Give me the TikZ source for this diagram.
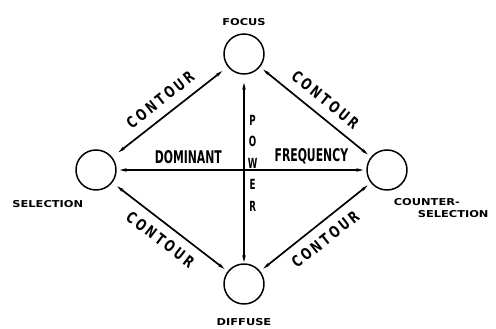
\documentclass[tikz,border=0pt]{standalone}
\usepackage{fontspec}
\setmainfont{DejaVu Sans}
\newfontfamily\tagfont[FakeStretch=1.2]{DejaVu Sans}
\newfontfamily\condfont[FakeStretch=0.62]{DejaVu Sans}
\newfontfamily\contfont[FakeStretch=0.75,LetterSpace=18]{DejaVu Sans}
\usetikzlibrary{arrows.meta,positioning}

\begin{document}
\begin{tikzpicture}[x=1pt,y=1pt,line join=round,>={Stealth[length=7pt,width=3.5pt]}]
	\tikzset{pole/.style={circle,draw,line width=1.5pt,minimum size=40pt,inner sep=0pt},
		poletag/.style={inner sep=1pt,font=\tagfont\bfseries\fontsize{9.5}{12}\selectfont},
		axis/.style={<->,line width=1.7pt},
		axistag/.style={inner sep=1pt,font=\condfont\bfseries\fontsize{17.5}{18}\selectfont},
		contour/.style={<->,line width=1.7pt,shorten <=4pt,shorten >=4pt},
		contag/.style={inner sep=1pt,font=\contfont\bfseries\fontsize{15.5}{16}\selectfont}}
	\useasboundingbox (0,0) rectangle (496,329);
	\node[pole] (focus) at (244,275) {};
	\node[pole] (diffuse) at (244,45) {};
	\node[pole] (sel) at (96,159) {};
	\node[pole] (counter) at (387,159) {};
	\node[poletag,above=6pt of focus] (focuslbl) {FOCUS};
	\node[poletag,below=13pt of diffuse] (diffuselbl) {DIFFUSE};
	\node[poletag,below left=15pt and -3pt of sel] (sellbl) {SELECTION};
	\node[poletag,align=left,below right=13pt and -9pt of counter] (counterlbl) {COUNTER-\\\hspace{24pt}SELECTION};
	\draw[axis,shorten <=3pt,shorten >=3pt] (sel) -- (counter)
		node[axistag,pos=0.287,above=4pt] (dom) {DOMINANT}
		node[axistag,pos=0.78,above=4pt] (freq) {FREQUENCY};
	\draw[axis,shorten <=8pt,shorten >=1pt] (focus) -- (diffuse)
		node[pos=0.47,right=2pt,inner sep=1pt,align=center,font=\condfont\bfseries\fontsize{14}{21.5}\selectfont] (power) {P\\O\\W\\E\\R};
	\draw[contour,shorten <=8pt,shorten >=7pt] (sel) -- (focus) node[contag,midway,sloped,above=8pt] (c1) {CONTOUR};
	\draw[contour] (focus) -- (counter) node[contag,midway,sloped,above=8pt] (c2) {CONTOUR};
	\draw[contour,shorten <=6pt] (sel) -- (diffuse) node[contag,midway,sloped,below=8pt] (c3) {CONTOUR};
	\draw[contour] (diffuse) -- (counter) node[contag,midway,sloped,below=8pt] (c4) {CONTOUR};
\end{tikzpicture}
\end{document}
